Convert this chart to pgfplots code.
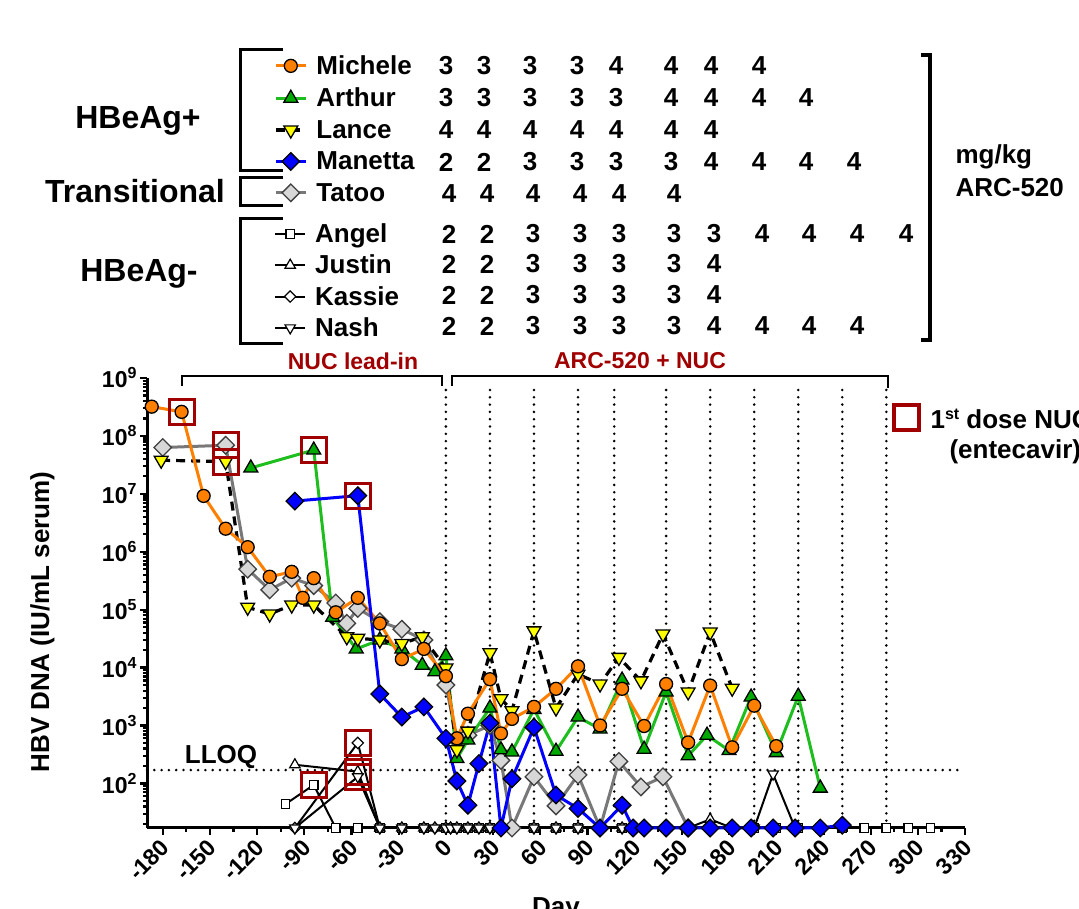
\documentclass[border=0pt]{standalone}
\usepackage{fontspec}
\setmainfont{Liberation Sans}
\usepackage{pgfplots}
\pgfplotsset{compat=1.18}

\definecolor{morange}{RGB}{255,128,0}
\definecolor{mgreen}{RGB}{30,190,30}
\definecolor{mgreenf}{RGB}{0,170,0}
\definecolor{myellow}{RGB}{255,255,0}
\definecolor{mblue}{RGB}{0,0,255}
\definecolor{mgrey}{RGB}{120,120,120}
\definecolor{mgreyf}{RGB}{215,215,215}
\definecolor{dred}{RGB}{160,0,0}

% sizes are in px of the reference (1px = 1pt)
\newcommand\fN{\fontsize{26}{30}\selectfont\bfseries}
\newcommand\fG{\fontsize{32}{36}\selectfont\bfseries}
\newcommand\fT{\fontsize{23}{25}\selectfont\bfseries}
\newcommand\fP{\fontsize{23}{26}\selectfont\bfseries}
\newcommand\pw[1]{10\raisebox{9pt}{\fontsize{16}{16}\selectfont #1}}

\pgfplotsset{
  pt michele/.style={draw=morange, line width=3pt, mark=*, mark size=6.5pt,
    mark options={solid, fill=morange, draw=black, line width=1.3pt}},
  pt arthur/.style={draw=mgreen, line width=3pt, mark=triangle*, mark size=8pt,
    mark options={solid, fill=mgreenf, draw=black, line width=1.3pt}},
  pt lance/.style={draw=black, line width=3.2pt, dash pattern=on 9pt off 6pt, mark=triangle*, mark size=8pt,
    mark options={solid, fill=myellow, draw=black, line width=1.3pt, rotate=180}},
  pt manetta/.style={draw=mblue, line width=3pt, mark=square*, mark size=6.2pt,
    mark options={solid, fill=mblue, draw=black, line width=1.3pt, rotate=45}},
  pt tatoo/.style={draw=mgrey, line width=3pt, mark=square*, mark size=6.2pt,
    mark options={solid, fill=mgreyf, draw=black!75, line width=1.3pt, rotate=45}},
  pt angel/.style={draw=black, line width=2pt, mark=square*, mark size=4.3pt,
    mark options={solid, fill=white, draw=black, line width=1.2pt}},
  pt justin/.style={draw=black, line width=2pt, mark=triangle*, mark size=6pt,
    mark options={solid, fill=white, draw=black, line width=1.2pt}},
  pt kassie/.style={draw=black, line width=2pt, mark=square*, mark size=4pt,
    mark options={solid, fill=white, draw=black, line width=1.2pt, rotate=45}},
  pt nash/.style={draw=black, line width=2pt, mark=triangle*, mark size=6pt,
    mark options={solid, fill=white, draw=black, line width=1.2pt, rotate=180}},
  leg/.style={hide axis, scale only axis, width=20pt, height=20pt,
    xmin=0, xmax=1, ymin=0, ymax=1, anchor=north west,
    legend style={at={(0,1)}, anchor=north west, draw=none, fill=none,
      inner sep=0pt, column sep=9pt, font=\fN, nodes={inner sep=0pt}},
    legend cell align=left,
    legend image code/.code={\draw[mark repeat=2,mark phase=2]
      plot coordinates {(0pt,0pt) (15pt,0pt) (30pt,0pt)};}},
}

\begin{document}
\begin{tikzpicture}[x=1pt,y=1pt]

\begin{axis}[
  at={(147pt,81pt)}, anchor=south west,
  scale only axis, width=818pt, height=450pt,
  xmin=-190, xmax=330, ymode=log, ymin=17, ymax=1e9,
  axis x line*=bottom, axis y line*=left,
  axis line style={line width=3pt, -},
  clip=false,
  xtick={-180,-150,...,330},
  xticklabels={-180,-150,-120,-90,-60,-30,0,30,60,90,120,150,180,210,240,270,300,330},
  minor x tick num=1,
  ytick={1e2,1e3,1e4,1e5,1e6,1e7,1e8,1e9},
  yticklabels={\pw{2},\pw{3},\pw{4},\pw{5},\pw{6},\pw{7},\pw{8},\pw{9}},
  minor ytick={2e1,3e1,4e1,5e1,6e1,7e1,8e1,9e1,
    2e2,3e2,4e2,5e2,6e2,7e2,8e2,9e2,2e3,3e3,4e3,5e3,6e3,7e3,8e3,9e3,
    2e4,3e4,4e4,5e4,6e4,7e4,8e4,9e4,2e5,3e5,4e5,5e5,6e5,7e5,8e5,9e5,
    2e6,3e6,4e6,5e6,6e6,7e6,8e6,9e6,2e7,3e7,4e7,5e7,6e7,7e7,8e7,9e7,
    2e8,3e8,4e8,5e8,6e8,7e8,8e8,9e8},
  tick align=outside,
  major tick length=7pt, minor tick length=4pt,
  tick style={black, line width=2.2pt},
  yticklabel style={font=\fT},
  xticklabel style={font=\fT, xshift=5pt, yshift=-6pt, rotate=45, anchor=east},
  xlabel={Day}, xlabel style={font=\fN, at={(axis description cs:0.5,0)}, anchor=north, yshift=-66pt},
  ylabel={HBV DNA (IU/mL serum)},
  ylabel style={font=\fN, at={(axis description cs:-0.128,0.458)}, anchor=center},
]
% dosing days and LLOQ
\foreach \d in {0,28,56,84,107,140,168,196,224,252,280}{
  \edef\tmp{\noexpand\draw[line width=2.8pt, line cap=round, dash pattern=on 0pt off 7.3pt]
    (axis cs:\d,17) -- (axis cs:\d,7.6e8);}\tmp}
\draw[line width=2.8pt, line cap=round, dash pattern=on 0pt off 7.3pt]
  (axis cs:-190,170) -- (axis cs:326,170);

% HBeAg- patients
\addplot[pt angel] coordinates {(-102,44) (-84,94) (-70,17) (-56,17) (-42,17) (-28,17) (-14,17)
  (0,17) (3,17) (7,17) (14,17) (21,17) (28,17) (35,17) (42,17) (56,17) (70,17) (84,17) (98,17)
  (112,17) (126,17) (140,17) (154,17) (168,17) (182,17) (196,17) (210,17) (224,17) (238,17)
  (252,17) (266,17) (280,17) (294,17) (308,17)};
\addplot[pt justin] coordinates {(-96,210) (-56,160) (-42,17) (-28,17) (-14,17) (-7,17) (0,17)
  (3,17) (7,17) (14,17) (21,17) (28,17) (35,17) (42,17) (56,17) (70,17) (84,17) (98,17)
  (112,17) (126,17) (140,17) (154,17) (168,24) (182,17)};
\addplot[pt kassie] coordinates {(-96,17) (-56,500) (-42,17) (-28,17) (-14,17) (-7,17) (0,17)
  (3,17) (7,17) (14,17) (21,17) (28,17) (35,17) (42,17) (56,17) (70,17) (84,17) (98,17)
  (112,17) (126,17) (140,17) (154,17) (168,17) (182,17)};
\addplot[pt nash] coordinates {(-96,17) (-56,130) (-42,17) (-28,17) (-14,17) (-7,17) (0,17)
  (3,17) (7,17) (14,17) (21,17) (28,17) (35,17) (42,17) (56,17) (70,17) (84,17) (98,17)
  (112,17) (126,17) (140,17) (154,17) (168,17) (182,17) (196,17) (208,145) (222,17)};

% Transitional
\addplot[pt tatoo] coordinates {(-180,6.3e7) (-140,6.9e7) (-126,5.0e5) (-112,2.2e5) (-98,3.5e5)
  (-84,2.6e5) (-70,1.3e5) (-63,5.8e4) (-56,1.05e5) (-42,6.2e4) (-28,4.6e4) (-14,3.0e4)
  (0,5.0e3) (7,5.6e2) (14,6.8e2) (28,1.0e3) (35,2.5e2) (42,17) (56,1.3e2) (70,41) (84,1.4e2)
  (98,17) (110,2.4e2) (124,87) (138,1.3e2) (154,17)};

% HBeAg+ patients
\addplot[pt arthur] coordinates {(-124,2.8e7) (-84,5.7e7) (-72,7.4e4) (-57,2.1e4) (-42,3.0e4)
  (-28,2.1e4) (-15,1.1e4) (-7,8.5e3) (0,1.6e4) (7,2.7e2) (14,5.6e2) (28,2.0e3) (35,3.8e2)
  (42,3.5e2) (56,1.9e3) (70,3.6e2) (84,1.4e3) (98,8.7e2) (112,6.1e3) (126,3.9e2) (140,3.8e3)
  (154,3.0e2) (166,6.8e2) (180,3.7e2) (194,3.1e3) (210,3.4e2) (224,3.2e3) (238,83)};
\addplot[pt lance] coordinates {(-181,3.8e7) (-140,3.6e7) (-126,1.1e5) (-112,8.4e4) (-98,1.2e5)
  (-84,1.2e5) (-63,3.4e4) (-56,3.2e4) (-42,3.0e4) (-28,2.6e4) (-15,3.4e4) (0,9.8e3) (7,3.8e2)
  (14,8.0e2) (28,1.8e4) (35,2.9e3) (42,1.8e3) (56,4.3e4) (70,2.0e3) (84,7.7e3) (98,5.2e3)
  (110,1.5e4) (124,5.9e3) (138,3.8e4) (154,3.8e3) (168,4.1e4) (182,4.4e3)};
\addplot[pt michele] coordinates {(-187,3.2e8) (-168,2.6e8) (-154,9.2e6) (-140,2.5e6) (-126,1.2e6)
  (-112,3.7e5) (-98,4.5e5) (-91,1.6e5) (-84,3.5e5) (-70,9.0e4) (-56,1.6e5) (-42,5.8e4)
  (-28,1.4e4) (-14,2.1e4) (0,7.1e3) (7,6.0e2) (14,1.6e3) (28,6.3e3) (35,7.3e2) (42,1.3e3)
  (56,2.1e3) (70,4.3e3) (84,1.05e4) (98,1.0e3) (112,4.3e3) (126,9.8e2) (140,5.2e3) (154,5.1e2)
  (168,4.9e3) (182,4.2e2) (196,2.2e3) (210,4.4e2)};
\addplot[pt manetta] coordinates {(-96,7.5e6) (-56,9.3e6) (-42,3.5e3) (-28,1.4e3) (-14,2.1e3)
  (0,6.0e2) (7,1.1e2) (14,42) (21,2.2e2) (28,1.1e3) (35,17) (42,1.2e2) (56,9.3e2) (70,63)
  (84,37) (98,17) (112,42) (119,17) (126,17) (140,17) (154,17) (168,17) (182,17) (194,17)
  (208,17) (222,17) (238,17) (252,19)};

% first NUC dose
\addplot[only marks, mark=square, mark size=12.5pt, mark options={draw=dred, line width=3.2pt}]
  coordinates {(-168,2.6e8) (-140,6.9e7) (-140,3.6e7) (-84,5.7e7) (-56,9.3e6) (-84,94)
  (-56,500) (-56,160) (-56,130)};
\end{axis}

% legend of patients
\begin{axis}[leg, at={(274pt,853.5pt)}, legend style={row sep=12pt}]
\addlegendimage{pt michele}\addlegendentry{Michele}
\addlegendimage{pt arthur}\addlegendentry{Arthur}
\addlegendimage{pt lance}\addlegendentry{Lance}
\addlegendimage{pt manetta}\addlegendentry{Manetta}
\addlegendimage{pt tatoo}\addlegendentry{Tatoo}
\end{axis}
\begin{axis}[leg, at={(274pt,685.5pt)}, legend style={row sep=11pt}]
\addlegendimage{pt angel}\addlegendentry{Angel}
\addlegendimage{pt justin}\addlegendentry{Justin}
\addlegendimage{pt kassie}\addlegendentry{Kassie}
\addlegendimage{pt nash}\addlegendentry{Nash}
\end{axis}

\begin{scope}[shift={(0,909)}, y=-1pt]
  % group brackets
  \draw[line width=3pt] (283,50) -- (240,50) -- (240,171) -- (283,171);
  \draw[line width=3pt] (283,178) -- (240,178) -- (240,206) -- (283,206);
  \draw[line width=3pt] (283,219) -- (240,219) -- (240,344) -- (283,344);
  \node[font=\fG] at (138,121) {HBeAg+};
  \node[font=\fG] at (135,191) {Transitional};
  \node[font=\fG] at (139,274) {HBeAg-};
  % doses
  \newcommand\dosrow[3]{%
    \foreach \v [count=\i from 0] in {#3} {%
      \pgfmathsetmacro\xx{{446,484,530,577,616,671,711,759,806,854,903}[\i]+#2}%
      \node[font=\fN] at (\xx,#1) {\v};}}
  \dosrow{66}{0}{3,3,3,3,4,4,4,4}
  \dosrow{98}{0}{3,3,3,3,3,4,4,4,4}
  \dosrow{130}{0}{4,4,4,4,4,4,4}
  \dosrow{162}{0}{2,2,3,3,3,3,4,4,4,4}
  \dosrow{194}{3}{4,4,4,4,4,4}
  \dosrow{234}{3}{2,2,3,3,3,3,3,4,4,4,4}
  \dosrow{264}{3}{2,2,3,3,3,3,4}
  \dosrow{295}{3}{2,2,3,3,3,3,4}
  \dosrow{326}{3}{2,2,3,3,3,3,4,4,4,4}
  \draw[line width=3.5pt] (921,55) -- (930,55) -- (930,340) -- (921,340);
  \node[font=\fN, anchor=west] at (952,157) {mg/kg};
  \node[font=\fN, anchor=west] at (952,188) {ARC-520};
  % phase brackets
  \draw[line width=2.8pt] (182,386) -- (182,376) -- (442,376) -- (442,386);
  \draw[line width=2.8pt] (452,386) -- (452,376) -- (888,376) -- (888,388);
  \node[font=\fP, text=dred] at (353,361) {NUC lead-in};
  \node[font=\fP, text=dred] at (640,361) {ARC-520 + NUC};
  \node[font=\fN] at (221,757) {LLOQ};
  % first dose key
  \draw[dred, line width=3.2pt] (894,405) rectangle (919,430);
  \node[font=\fN, anchor=west] at (927,419) {1\raisebox{9pt}{\fontsize{16}{16}\selectfont st} dose NUC};
  \node[font=\fN, anchor=west] at (946,452) {(entecavir)};
\end{scope}

\pgfresetboundingbox
\useasboundingbox (0,0) rectangle (1079,909);
\end{tikzpicture}
\end{document}
